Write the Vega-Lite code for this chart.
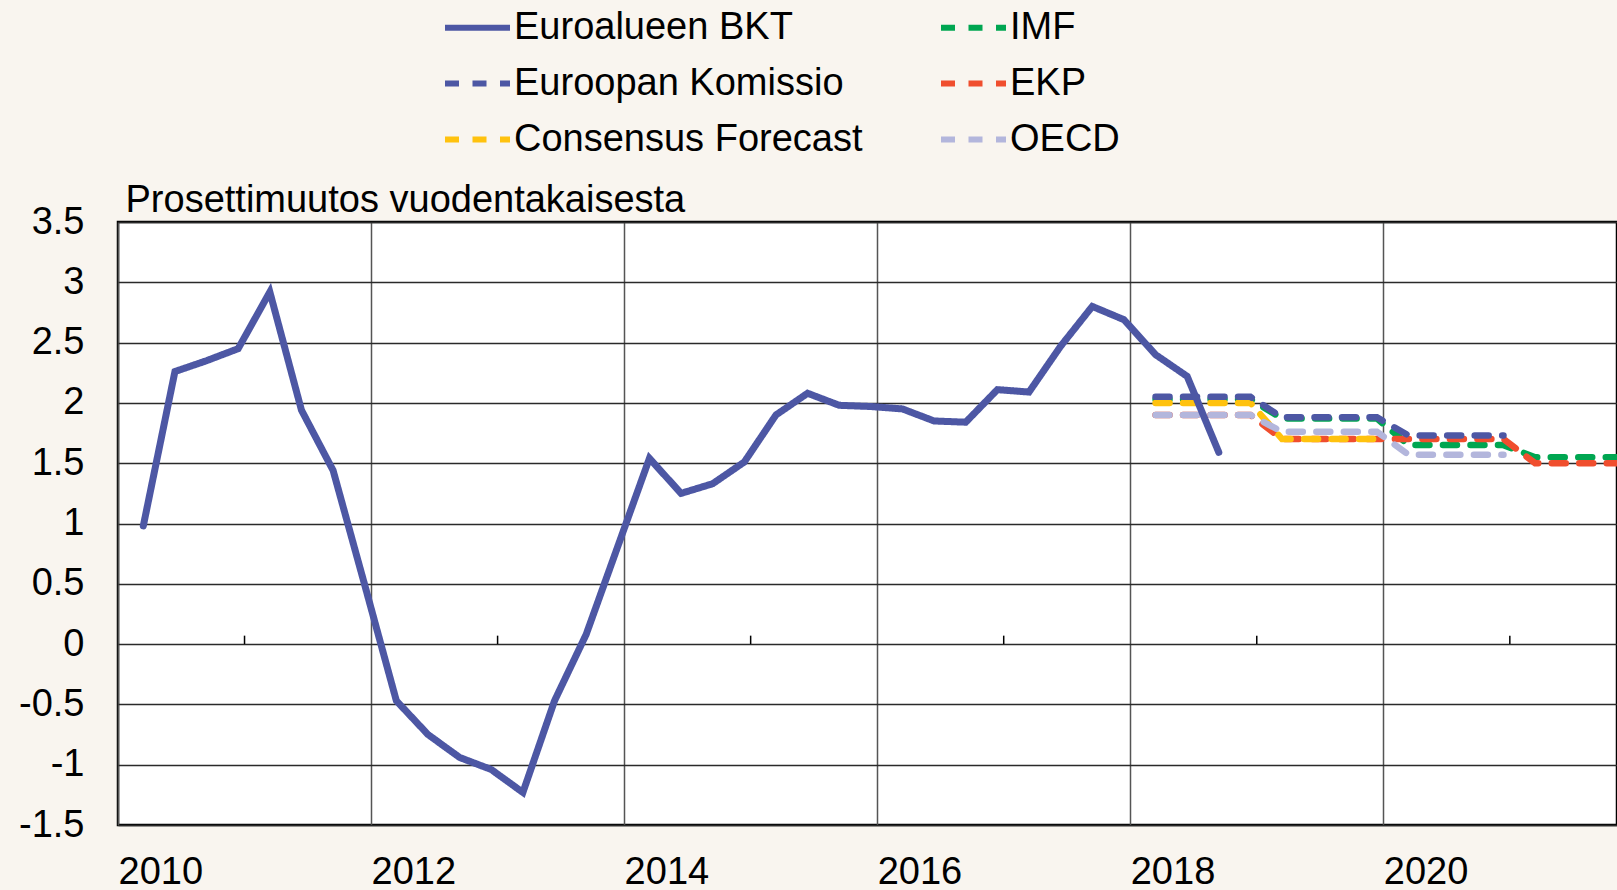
{
  "$schema": "https://vega.github.io/schema/vega-lite/v6.json",
  "width": 1499,
  "height": 603,
  "autosize": {"type": "none"},
  "padding": {"left": 118, "top": 222, "right": 0, "bottom": 65},
  "background": "#f9f5ef",
  "config": {
    "font": "Liberation Sans",
    "view": {"fill": "#ffffff", "stroke": "#000000", "strokeWidth": 2.5}
  },
  "datasets": {
    "valit": [{"vuosi": 2011}, {"vuosi": 2013}, {"vuosi": 2015}, {"vuosi": 2017}, {"vuosi": 2019}, {"vuosi": 2021}],
    "sarjat": [
      {"sarja": "Euroalueen BKT", "vuosi": 2010.2, "arvo": 0.98},
      {"sarja": "Euroalueen BKT", "vuosi": 2010.45, "arvo": 2.26},
      {"sarja": "Euroalueen BKT", "vuosi": 2010.7, "arvo": 2.35},
      {"sarja": "Euroalueen BKT", "vuosi": 2010.95, "arvo": 2.45},
      {"sarja": "Euroalueen BKT", "vuosi": 2011.2, "arvo": 2.92},
      {"sarja": "Euroalueen BKT", "vuosi": 2011.45, "arvo": 1.94},
      {"sarja": "Euroalueen BKT", "vuosi": 2011.7, "arvo": 1.44},
      {"sarja": "Euroalueen BKT", "vuosi": 2011.95, "arvo": 0.49},
      {"sarja": "Euroalueen BKT", "vuosi": 2012.2, "arvo": -0.47},
      {"sarja": "Euroalueen BKT", "vuosi": 2012.45, "arvo": -0.75},
      {"sarja": "Euroalueen BKT", "vuosi": 2012.7, "arvo": -0.94},
      {"sarja": "Euroalueen BKT", "vuosi": 2012.95, "arvo": -1.04},
      {"sarja": "Euroalueen BKT", "vuosi": 2013.2, "arvo": -1.23},
      {"sarja": "Euroalueen BKT", "vuosi": 2013.45, "arvo": -0.47},
      {"sarja": "Euroalueen BKT", "vuosi": 2013.7, "arvo": 0.08},
      {"sarja": "Euroalueen BKT", "vuosi": 2013.95, "arvo": 0.81},
      {"sarja": "Euroalueen BKT", "vuosi": 2014.2, "arvo": 1.54},
      {"sarja": "Euroalueen BKT", "vuosi": 2014.45, "arvo": 1.25},
      {"sarja": "Euroalueen BKT", "vuosi": 2014.7, "arvo": 1.33},
      {"sarja": "Euroalueen BKT", "vuosi": 2014.95, "arvo": 1.51},
      {"sarja": "Euroalueen BKT", "vuosi": 2015.2, "arvo": 1.9},
      {"sarja": "Euroalueen BKT", "vuosi": 2015.45, "arvo": 2.08},
      {"sarja": "Euroalueen BKT", "vuosi": 2015.7, "arvo": 1.98},
      {"sarja": "Euroalueen BKT", "vuosi": 2015.95, "arvo": 1.97},
      {"sarja": "Euroalueen BKT", "vuosi": 2016.2, "arvo": 1.95},
      {"sarja": "Euroalueen BKT", "vuosi": 2016.45, "arvo": 1.85},
      {"sarja": "Euroalueen BKT", "vuosi": 2016.7, "arvo": 1.84},
      {"sarja": "Euroalueen BKT", "vuosi": 2016.95, "arvo": 2.11},
      {"sarja": "Euroalueen BKT", "vuosi": 2017.2, "arvo": 2.09},
      {"sarja": "Euroalueen BKT", "vuosi": 2017.45, "arvo": 2.47},
      {"sarja": "Euroalueen BKT", "vuosi": 2017.7, "arvo": 2.8},
      {"sarja": "Euroalueen BKT", "vuosi": 2017.95, "arvo": 2.69},
      {"sarja": "Euroalueen BKT", "vuosi": 2018.2, "arvo": 2.4},
      {"sarja": "Euroalueen BKT", "vuosi": 2018.45, "arvo": 2.22},
      {"sarja": "Euroalueen BKT", "vuosi": 2018.7, "arvo": 1.59},

      {"sarja": "IMF", "vuosi": 2018.2, "arvo": 2.03},
      {"sarja": "IMF", "vuosi": 2018.45, "arvo": 2.03},
      {"sarja": "IMF", "vuosi": 2018.7, "arvo": 2.03},
      {"sarja": "IMF", "vuosi": 2018.95, "arvo": 2.03},
      {"sarja": "IMF", "vuosi": 2019.2, "arvo": 1.87},
      {"sarja": "IMF", "vuosi": 2019.45, "arvo": 1.87},
      {"sarja": "IMF", "vuosi": 2019.7, "arvo": 1.87},
      {"sarja": "IMF", "vuosi": 2019.95, "arvo": 1.87},
      {"sarja": "IMF", "vuosi": 2020.2, "arvo": 1.65},
      {"sarja": "IMF", "vuosi": 2020.45, "arvo": 1.65},
      {"sarja": "IMF", "vuosi": 2020.7, "arvo": 1.65},
      {"sarja": "IMF", "vuosi": 2020.95, "arvo": 1.65},
      {"sarja": "IMF", "vuosi": 2021.2, "arvo": 1.55},
      {"sarja": "IMF", "vuosi": 2021.45, "arvo": 1.55},
      {"sarja": "IMF", "vuosi": 2021.7, "arvo": 1.55},
      {"sarja": "IMF", "vuosi": 2021.95, "arvo": 1.55},

      {"sarja": "EKP", "vuosi": 2018.2, "arvo": 1.9},
      {"sarja": "EKP", "vuosi": 2018.45, "arvo": 1.9},
      {"sarja": "EKP", "vuosi": 2018.7, "arvo": 1.9},
      {"sarja": "EKP", "vuosi": 2018.95, "arvo": 1.9},
      {"sarja": "EKP", "vuosi": 2019.2, "arvo": 1.7},
      {"sarja": "EKP", "vuosi": 2019.45, "arvo": 1.7},
      {"sarja": "EKP", "vuosi": 2019.7, "arvo": 1.7},
      {"sarja": "EKP", "vuosi": 2019.95, "arvo": 1.7},
      {"sarja": "EKP", "vuosi": 2020.2, "arvo": 1.7},
      {"sarja": "EKP", "vuosi": 2020.45, "arvo": 1.7},
      {"sarja": "EKP", "vuosi": 2020.7, "arvo": 1.7},
      {"sarja": "EKP", "vuosi": 2020.95, "arvo": 1.7},
      {"sarja": "EKP", "vuosi": 2021.2, "arvo": 1.5},
      {"sarja": "EKP", "vuosi": 2021.45, "arvo": 1.5},
      {"sarja": "EKP", "vuosi": 2021.7, "arvo": 1.5},
      {"sarja": "EKP", "vuosi": 2021.95, "arvo": 1.5},

      {"sarja": "Consensus Forecast", "vuosi": 2018.2, "arvo": 2.0},
      {"sarja": "Consensus Forecast", "vuosi": 2018.45, "arvo": 2.0},
      {"sarja": "Consensus Forecast", "vuosi": 2018.7, "arvo": 2.0},
      {"sarja": "Consensus Forecast", "vuosi": 2018.95, "arvo": 2.0},
      {"sarja": "Consensus Forecast", "vuosi": 2019.2, "arvo": 1.7},
      {"sarja": "Consensus Forecast", "vuosi": 2019.45, "arvo": 1.7},
      {"sarja": "Consensus Forecast", "vuosi": 2019.7, "arvo": 1.7},
      {"sarja": "Consensus Forecast", "vuosi": 2019.95, "arvo": 1.7},

      {"sarja": "OECD", "vuosi": 2018.2, "arvo": 1.9},
      {"sarja": "OECD", "vuosi": 2018.45, "arvo": 1.9},
      {"sarja": "OECD", "vuosi": 2018.7, "arvo": 1.9},
      {"sarja": "OECD", "vuosi": 2018.95, "arvo": 1.9},
      {"sarja": "OECD", "vuosi": 2019.2, "arvo": 1.76},
      {"sarja": "OECD", "vuosi": 2019.45, "arvo": 1.76},
      {"sarja": "OECD", "vuosi": 2019.7, "arvo": 1.76},
      {"sarja": "OECD", "vuosi": 2019.95, "arvo": 1.76},
      {"sarja": "OECD", "vuosi": 2020.2, "arvo": 1.57},
      {"sarja": "OECD", "vuosi": 2020.45, "arvo": 1.57},
      {"sarja": "OECD", "vuosi": 2020.7, "arvo": 1.57},
      {"sarja": "OECD", "vuosi": 2020.95, "arvo": 1.57},

      {"sarja": "Euroopan Komissio", "vuosi": 2018.2, "arvo": 2.05},
      {"sarja": "Euroopan Komissio", "vuosi": 2018.45, "arvo": 2.05},
      {"sarja": "Euroopan Komissio", "vuosi": 2018.7, "arvo": 2.05},
      {"sarja": "Euroopan Komissio", "vuosi": 2018.95, "arvo": 2.05},
      {"sarja": "Euroopan Komissio", "vuosi": 2019.2, "arvo": 1.88},
      {"sarja": "Euroopan Komissio", "vuosi": 2019.45, "arvo": 1.88},
      {"sarja": "Euroopan Komissio", "vuosi": 2019.7, "arvo": 1.88},
      {"sarja": "Euroopan Komissio", "vuosi": 2019.95, "arvo": 1.88},
      {"sarja": "Euroopan Komissio", "vuosi": 2020.2, "arvo": 1.73},
      {"sarja": "Euroopan Komissio", "vuosi": 2020.45, "arvo": 1.73},
      {"sarja": "Euroopan Komissio", "vuosi": 2020.7, "arvo": 1.73},
      {"sarja": "Euroopan Komissio", "vuosi": 2020.95, "arvo": 1.73}
    ]
  },
  "layer": [
    {
      "data": {"name": "valit"},
      "mark": {"type": "rule", "color": "#000000", "strokeWidth": 1.5},
      "encoding": {
        "x": {"field": "vuosi", "type": "quantitative"},
        "y": {"datum": 0, "type": "quantitative"},
        "y2": {"datum": 0.07}
      }
    },
    {
      "data": {"name": "sarjat"},
      "encoding": {
        "x": {
          "field": "vuosi", "type": "quantitative",
          "scale": {"domain": [2010, 2021.847], "nice": false, "zero": false},
          "axis": {
            "values": [2010, 2012, 2014, 2016, 2018, 2020],
            "labelExpr": "toString(datum.value)",
            "title": null, "ticks": false, "domain": false,
            "grid": true, "gridColor": "#555555", "gridWidth": 1.5,
            "labelAlign": "left", "labelBaseline": "alphabetic", "labelPadding": 58,
            "labelFontSize": 38, "labelColor": "#000000", "labelFont": "Liberation Sans",
            "labelFlush": false, "labelOverlap": false
          }
        },
        "y": {
          "field": "arvo", "type": "quantitative",
          "scale": {"domain": [-1.5, 3.5], "nice": false, "zero": false},
          "axis": {
            "values": [-1.5, -1, -0.5, 0, 0.5, 1, 1.5, 2, 2.5, 3, 3.5],
            "labelExpr": "toString(datum.value)",
            "title": "Prosettimuutos vuodentakaisesta",
            "titleAngle": 0, "titleAlign": "left", "titleBaseline": "alphabetic",
            "titleX": 7, "titleY": -11, "titleFontSize": 38, "titleFontWeight": "normal",
            "titleColor": "#000000", "titleFont": "Liberation Sans",
            "ticks": false, "domain": false,
            "grid": true, "gridColor": "#2a2a2a", "gridWidth": 1.5,
            "labelFontSize": 38, "labelPadding": 34, "labelColor": "#000000",
            "labelFont": "Liberation Sans", "labelBaseline": "middle",
            "labelFlush": false, "labelOverlap": false
          }
        },
        "color": {
          "field": "sarja", "type": "nominal",
          "scale": {
            "domain": ["Euroalueen BKT", "Euroopan Komissio", "Consensus Forecast", "IMF", "EKP", "OECD"],
            "range": ["#4d57a4", "#4d57a4", "#ffc20e", "#00a651", "#f04e2e", "#b3b6dc"]
          },
          "legend": {
            "orient": "none", "legendX": 324, "legendY": -230, "columns": 2, "title": null,
            "symbolType": "stroke", "symbolSize": 4225, "symbolStrokeWidth": 6,
            "labelFontSize": 38, "labelFont": "Liberation Sans", "labelColor": "#000000",
            "labelOffset": 1, "columnPadding": 66, "rowPadding": 1, "labelLimit": 0, "padding": 0
          }
        },
        "strokeDash": {
          "field": "sarja", "type": "nominal",
          "scale": {
            "domain": ["Euroalueen BKT", "Euroopan Komissio", "Consensus Forecast", "IMF", "EKP", "OECD"],
            "range": [[1, 0], [14, 13.5], [14, 13.5], [14, 13.5], [14, 13.5], [14, 13.5]]
          },
          "legend": {
            "orient": "none", "legendX": 324, "legendY": -230, "columns": 2, "title": null,
            "symbolType": "stroke", "symbolSize": 4225, "symbolStrokeWidth": 6,
            "labelFontSize": 38, "labelFont": "Liberation Sans", "labelColor": "#000000",
            "labelOffset": 1, "columnPadding": 66, "rowPadding": 1, "labelLimit": 0, "padding": 0
          }
        }
      },
      "layer": [
        {"transform": [{"filter": "datum.sarja === 'IMF'"}], "mark": {"type": "line", "strokeWidth": 6.5, "strokeCap": "round", "clip": true}},
        {"transform": [{"filter": "datum.sarja === 'EKP'"}], "mark": {"type": "line", "strokeWidth": 6.5, "strokeCap": "round", "clip": true}},
        {"transform": [{"filter": "datum.sarja === 'Consensus Forecast'"}], "mark": {"type": "line", "strokeWidth": 6.5, "strokeCap": "round", "clip": true}},
        {"transform": [{"filter": "datum.sarja === 'OECD'"}], "mark": {"type": "line", "strokeWidth": 6.5, "strokeCap": "round", "clip": true}},
        {"transform": [{"filter": "datum.sarja === 'Euroopan Komissio'"}], "mark": {"type": "line", "strokeWidth": 6.5, "strokeCap": "round", "clip": true}},
        {"transform": [{"filter": "datum.sarja === 'Euroalueen BKT'"}], "mark": {"type": "line", "strokeWidth": 7, "strokeCap": "round", "strokeJoin": "miter", "clip": true}}
      ]
    }
  ]
}
